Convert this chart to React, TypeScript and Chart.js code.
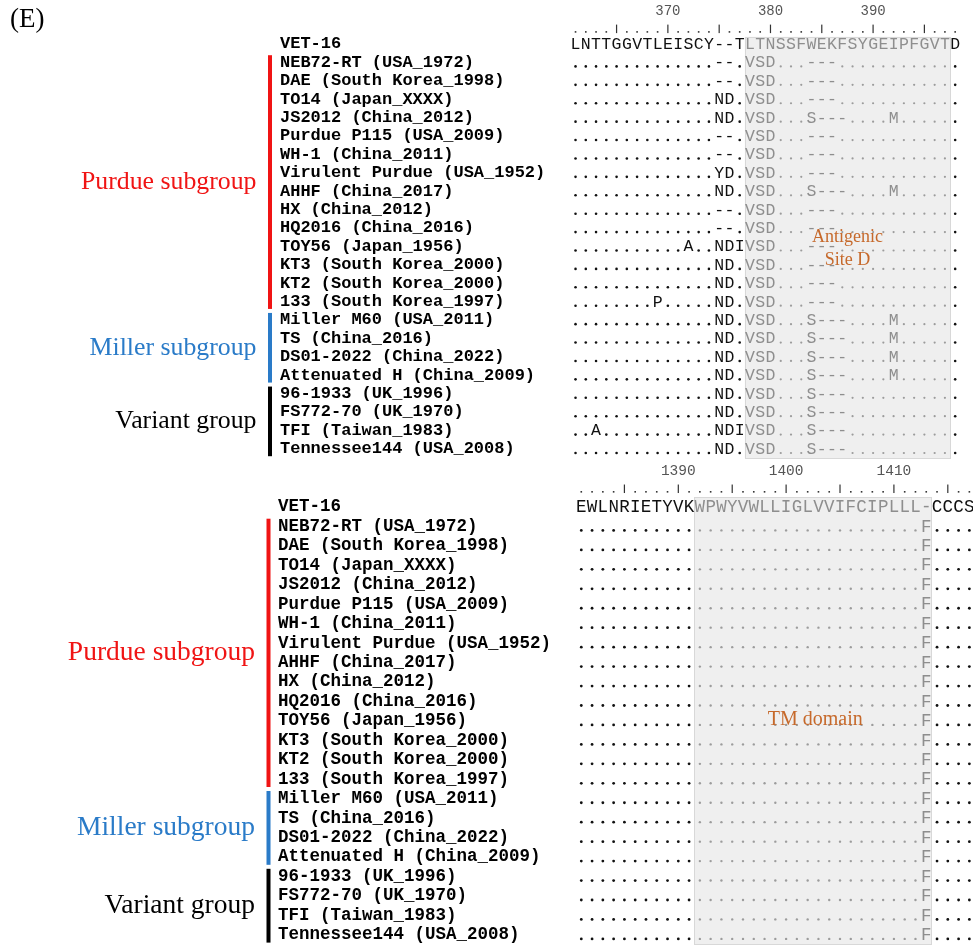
import React, { useEffect, useRef } from 'react';
import { Chart, registerables } from 'chart.js';

Chart.register(...registerables);

// ---------------- data ----------------
const panelLabel = '(E)';
const referenceName = 'VET-16';
const strainNames = [
  'NEB72-RT (USA_1972)',
  'DAE (South Korea_1998)',
  'TO14 (Japan_XXXX)',
  'JS2012 (China_2012)',
  'Purdue P115 (USA_2009)',
  'WH-1 (China_2011)',
  'Virulent Purdue (USA_1952)',
  'AHHF (China_2017)',
  'HX (China_2012)',
  'HQ2016 (China_2016)',
  'TOY56 (Japan_1956)',
  'KT3 (South Korea_2000)',
  'KT2 (South Korea_2000)',
  '133 (South Korea_1997)',
  'Miller M60 (USA_2011)',
  'TS (China_2016)',
  'DS01-2022 (China_2022)',
  'Attenuated H (China_2009)',
  '96-1933 (UK_1996)',
  'FS772-70 (UK_1970)',
  'TFI (Taiwan_1983)',
  'Tennessee144 (USA_2008)',
];

const groupNames = ['Purdue subgroup', 'Miller subgroup', 'Variant group'];
const groupFirstStrain = [1, 15, 19];
const groupLastStrain = [14, 18, 22];

// block 1: antigenic site D
const topTickColumns = [10, 20, 30];
const topTickLabels = ['370', '380', '390'];
const topRuler = '....|....|....|....|....|....|....|...';
const topReference = 'LNTTGGVTLEISCY--TLTNSSFWEKFSYGEIPFGVTD';
const topRows = [
  '..............--.VSD...---............',
  '..............--.VSD...---............',
  '..............ND.VSD...---............',
  '..............ND.VSD...S---....M......',
  '..............--.VSD...---............',
  '..............--.VSD...---............',
  '..............YD.VSD...---............',
  '..............ND.VSD...S---....M......',
  '..............--.VSD...---............',
  '..............--.VSD...---............',
  '...........A..NDIVSD...---............',
  '..............ND.VSD...---............',
  '..............ND.VSD...---............',
  '........P.....ND.VSD...---............',
  '..............ND.VSD...S---....M......',
  '..............ND.VSD...S---....M......',
  '..............ND.VSD...S---....M......',
  '..............ND.VSD...S---....M......',
  '..............ND.VSD...S---...........',
  '..............ND.VSD...S---...........',
  '..A...........NDIVSD...S---...........',
  '..............ND.VSD...S---...........',
];
const topShadedColumns = [18, 37];
const topNotes = ['Antigenic', 'Site D'];
const topNoteColumns = [27.5, 27.5];
const topNoteRows = [10.48, 11.73];

// block 2: TM domain
const bottomTickColumns = [10, 20, 30];
const bottomTickLabels = ['1390', '1400', '1410'];
const bottomRuler = '....|....|....|....|....|....|....|..';
const bottomReference = 'EWLNRIETYVKWPWYVWLLIGLVVIFCIPLLL-CCCS';
const bottomRows = [
  '................................F....',
  '................................F....',
  '................................F....',
  '................................F....',
  '................................F....',
  '................................F....',
  '................................F....',
  '................................F....',
  '................................F....',
  '................................F....',
  '................................F....',
  '................................F....',
  '................................F....',
  '................................F....',
  '................................F....',
  '................................F....',
  '................................F....',
  '................................F....',
  '................................F....',
  '................................F....',
  '................................F....',
  '................................F....',
];
const bottomShadedColumns = [12, 33];
const bottomNotes = ['TM domain'];
const bottomNoteColumns = [22.7];
const bottomNoteRows = [10.95];

// ---------------- styles ----------------
const MONO = '"Liberation Mono", "Courier New", monospace';
const SERIF = '"Liberation Serif", "Times New Roman", serif';
const groupColors = ['#f01414', '#2a7bc8', '#000000'];
const noteColor = '#c6692b';
const shadeFill = '#efefef';
const shadeEdge = '#d8d8d8';
const grayText = '#8e8e8e';
const darkText = '#101010';

const topBlock = {
  key: 'top',
  tickColumns: topTickColumns,
  tickLabels: topTickLabels,
  ruler: topRuler,
  reference: topReference,
  rows: topRows,
  shaded: topShadedColumns,
  notes: topNotes,
  noteCols: topNoteColumns,
  noteRows: topNoteRows,
  showPanel: true,
};
const bottomBlock = {
  key: 'bottom',
  tickColumns: bottomTickColumns,
  tickLabels: bottomTickLabels,
  ruler: bottomRuler,
  reference: bottomReference,
  rows: bottomRows,
  shaded: bottomShadedColumns,
  notes: bottomNotes,
  noteCols: bottomNoteColumns,
  noteRows: bottomNoteRows,
  showPanel: false,
};

const topStyle = {
  canvasW: 990, canvasH: 480, canvasTop: 0,
  padding: { left: 280, right: 29.7, top: 0, bottom: 21.8 },
  xAxisHeight: 16.4, yAxisWidth: 290.4, tickPad: -1.5, rulerDy: 2,
  nameSize: 17, seqSize: 16.5, tickSize: 14, groupSize: 25.8, noteSize: 18,
  barOffset: 10, labelGap: 13.5, shadeInsetTop: 2, dotDy: 4, dotR: 1.3,
};
const bottomStyle = {
  canvasW: 990, canvasH: 510, canvasTop: 450,
  padding: { left: 278, right: 15.24, top: 0, bottom: 15.4 },
  xAxisHeight: 27.8, yAxisWidth: 297.9, tickPad: -0.5, rulerDy: 0,
  nameSize: 17.5, seqSize: 17.5, tickSize: 14.5, groupSize: 27.5, noteSize: 20,
  barOffset: 9.5, labelGap: 13.5, shadeInsetTop: 0, dotDy: 4, dotR: 1.4,
};

function drawBlock(chart: any, b: any, st: any) {
  const { ctx } = chart;
  const xs = chart.scales.x;
  const ys = chart.scales.y;
  const X = (c: number) => xs.getPixelForValue(c);
  const Y = (i: number) => ys.getPixelForValue(i);
  const band = Y(2) - Y(1);
  const lastIdx = b.rows.length + 1;
  ctx.save();

  // shaded region
  const sx0 = X(b.shaded[0] - 0.5);
  const sx1 = X(b.shaded[1] + 0.5);
  const sy0 = Y(1) - band / 2 + st.shadeInsetTop;
  const sy1 = Y(lastIdx) + band / 2;
  ctx.fillStyle = shadeFill;
  ctx.fillRect(sx0, sy0, sx1 - sx0, sy1 - sy0);
  ctx.strokeStyle = shadeEdge;
  ctx.lineWidth = 1;
  ctx.strokeRect(Math.round(sx0) + 0.5, Math.round(sy0) + 0.5, Math.round(sx1 - sx0), Math.round(sy1 - sy0));

  // ruler
  const ry = Y(0) + st.rulerDy;
  ctx.fillStyle = '#333';
  for (let c = 0; c < b.ruler.length; c++) {
    const px = X(c + 1);
    if (b.ruler[c] === '|') ctx.fillRect(px - 0.6, ry - 3, 1.2, 8.5);
    else ctx.fillRect(px - 0.8, ry + 3.5, 1.6, 1.6);
  }

  // sequences
  ctx.font = `${st.seqSize}px ${MONO}`;
  ctx.textAlign = 'center';
  ctx.textBaseline = 'middle';
  const seqs = [b.reference, ...b.rows];
  seqs.forEach((s: string, r: number) => {
    const py = Y(r + 1);
    for (let c = 0; c < s.length; c++) {
      const col = c + 1;
      const ch = s[c];
      const shaded = col >= b.shaded[0] && col <= b.shaded[1];
      const px = X(col);
      if (ch === '.') {
        ctx.fillStyle = shaded ? '#9c9c9c' : '#111';
        ctx.beginPath();
        ctx.arc(px, py + st.dotDy, shaded ? st.dotR * 0.85 : st.dotR, 0, Math.PI * 2);
        ctx.fill();
      } else {
        ctx.fillStyle = shaded ? grayText : darkText;
        ctx.fillText(ch, px, py + 0.5);
      }
    }
  });

  // group bars and labels
  const barX = ys.left - st.barOffset;
  ctx.font = `${st.groupSize}px ${SERIF}`;
  ctx.textAlign = 'right';
  ctx.textBaseline = 'middle';
  groupNames.forEach((g, i) => {
    const yTop = Y(groupFirstStrain[i] + 1) - band / 2 + 2;
    const yBot = Y(groupLastStrain[i] + 1) + band / 2 - 2;
    ctx.fillStyle = groupColors[i];
    ctx.fillRect(barX - 2, yTop, 4, yBot - yTop);
    const yMid = (Y(groupFirstStrain[i] + 1) + Y(groupLastStrain[i] + 1)) / 2;
    ctx.fillText(g, barX - st.labelGap, yMid);
  });

  // annotations
  ctx.font = `${st.noteSize}px ${SERIF}`;
  ctx.textAlign = 'center';
  ctx.fillStyle = noteColor;
  b.notes.forEach((t: string, i: number) => {
    ctx.fillText(t, X(b.noteCols[i]), Y(b.noteRows[i] + 1));
  });

  if (b.showPanel) {
    ctx.font = `27px ${SERIF}`;
    ctx.textAlign = 'left';
    ctx.fillStyle = '#000';
    ctx.fillText(panelLabel, 10, 20);
  }
  ctx.restore();
}

function buildConfig(b: any, st: any): any {
  const labels = ['', referenceName, ...strainNames];
  return {
    type: 'scatter',
    data: { datasets: [] },
    options: {
      animation: false,
      responsive: false,
      devicePixelRatio: 1,
      events: [],
      layout: { padding: st.padding },
      plugins: { legend: { display: false }, tooltip: { enabled: false }, title: { display: false } },
      scales: {
        x: {
          type: 'linear',
          position: 'top',
          bounds: 'data',
          min: 0.5,
          max: b.reference.length + 0.5,
          grid: { display: false, drawTicks: false },
          border: { display: false },
          afterBuildTicks: (s: any) => {
            s.ticks = b.tickColumns.map((v: number) => ({ value: v }));
          },
          afterFit: (s: any) => {
            s.height = st.xAxisHeight;
          },
          ticks: {
            padding: st.tickPad,
            autoSkip: false,
            maxRotation: 0,
            minRotation: 0,
            color: '#555',
            font: { family: MONO, size: st.tickSize, lineHeight: 1 },
            callback: (_v: any, i: number) => b.tickLabels[i],
          },
        },
        y: {
          type: 'category',
          labels,
          offset: true,
          grid: { display: false, drawTicks: false },
          border: { display: false },
          afterFit: (s: any) => {
            s.width = st.yAxisWidth;
          },
          ticks: {
            crossAlign: 'far',
            padding: 0,
            autoSkip: false,
            color: '#000',
            font: { family: MONO, size: st.nameSize, weight: 'bold', lineHeight: 1.2 },
          },
        },
      },
    },
    plugins: [{ id: 'seq-' + b.key, afterDraw: (chart: any) => drawBlock(chart, b, st) }],
  };
}

export default function App() {
  const topRef = useRef<HTMLCanvasElement>(null);
  const botRef = useRef<HTMLCanvasElement>(null);
  useEffect(() => {
    const c1 = new Chart(topRef.current as HTMLCanvasElement, buildConfig(topBlock, topStyle));
    const c2 = new Chart(botRef.current as HTMLCanvasElement, buildConfig(bottomBlock, bottomStyle));
    return () => {
      c1.destroy();
      c2.destroy();
    };
  }, []);
  return (
    <div style={{ position: 'fixed', left: 0, top: 0, width: 973, height: 945, overflow: 'hidden', background: '#fff' }}>
      <canvas
        ref={topRef}
        width={topStyle.canvasW}
        height={topStyle.canvasH}
        style={{ position: 'absolute', left: 0, top: topStyle.canvasTop }}
      />
      <canvas
        ref={botRef}
        width={bottomStyle.canvasW}
        height={bottomStyle.canvasH}
        style={{ position: 'absolute', left: 0, top: bottomStyle.canvasTop }}
      />
    </div>
  );
}
